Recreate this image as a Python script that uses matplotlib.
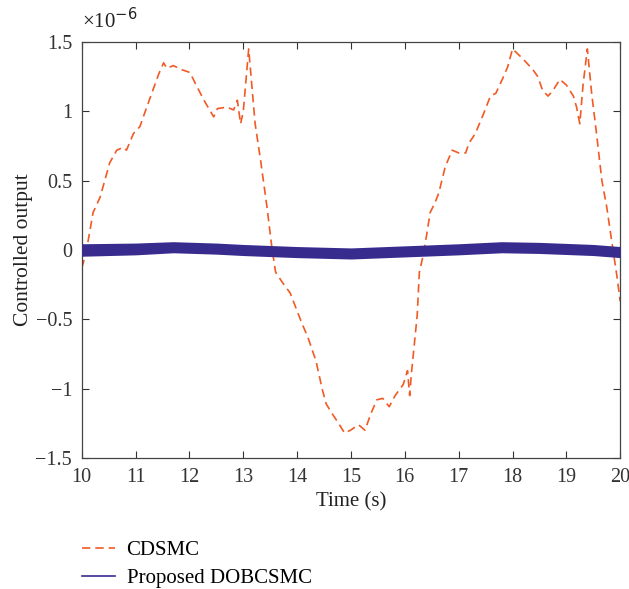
import matplotlib
matplotlib.use("Agg")
import matplotlib.pyplot as plt
from matplotlib.ticker import FuncFormatter

# CDSMC controlled output (units of 1e-6)
t_cdsmc = [10.0, 10.06, 10.12, 10.21, 10.34, 10.52, 10.65, 10.77, 10.83, 10.96, 11.08, 11.17,
           11.30, 11.43, 11.52, 11.58, 11.70, 11.86, 12.01, 12.11, 12.27, 12.45, 12.52, 12.70,
           12.82, 12.89, 12.95, 13.0, 13.10, 13.22, 13.32, 13.44, 13.53, 13.60, 13.72, 13.87,
           13.98, 14.09, 14.20, 14.35, 14.47, 14.54, 14.65, 14.77, 14.88, 14.99, 15.14, 15.26,
           15.37, 15.48, 15.59, 15.71, 15.82, 15.97, 16.05, 16.09, 16.12, 16.23, 16.27, 16.34,
           16.41, 16.47, 16.56, 16.63, 16.75, 16.88, 17.0, 17.13, 17.19, 17.31, 17.47, 17.59,
           17.69, 17.81, 17.91, 18.0, 18.19, 18.38, 18.47, 18.56, 18.66, 18.75, 18.88, 19.0,
           19.13, 19.19, 19.25, 19.31, 19.39, 19.47, 19.56, 19.66, 19.75, 19.84, 19.94, 20.0]
y_cdsmc = [-0.13, -0.05, 0.07, 0.27, 0.38, 0.63, 0.72, 0.74, 0.72, 0.84, 0.89, 0.99,
           1.13, 1.27, 1.35, 1.31, 1.33, 1.30, 1.28, 1.20, 1.08, 0.96, 1.02, 1.03,
           1.01, 1.08, 0.91, 1.00, 1.45, 0.91, 0.65, 0.31, 0.02, -0.16, -0.23, -0.31,
           -0.42, -0.53, -0.63, -0.80, -1.01, -1.11, -1.18, -1.25, -1.32, -1.30, -1.26, -1.30,
           -1.18, -1.08, -1.07, -1.13, -1.05, -0.97, -0.87, -1.05, -0.90, -0.47, -0.16, -0.04,
           0.12, 0.27, 0.34, 0.41, 0.60, 0.72, 0.70, 0.70, 0.77, 0.84, 0.99, 1.11,
           1.13, 1.23, 1.32, 1.45, 1.38, 1.30, 1.25, 1.15, 1.11, 1.15, 1.23, 1.19,
           1.11, 1.03, 0.91, 1.19, 1.45, 1.13, 0.84, 0.50, 0.31, 0.07, -0.19, -0.37]

# Proposed DOBCSMC: noise band around zero (units of 1e-6)
t_dob = [10.0, 11.0, 11.7, 12.5, 13.0, 14.0, 15.0, 16.0, 17.0, 17.8, 18.5, 19.5, 20.0]
y_dob = [0.0, 0.01, 0.02, 0.01, 0.0, -0.015, -0.025, -0.01, 0.005, 0.02, 0.015, 0.0, -0.015]
dob_upper = [0.045, 0.05, 0.06, 0.05, 0.04, 0.025, 0.015, 0.03, 0.045, 0.06, 0.055, 0.04, 0.025]
dob_lower = [-0.045, -0.035, -0.02, -0.03, -0.04, -0.055, -0.065, -0.05, -0.035, -0.02, -0.025, -0.04, -0.055]

yticks = [-1.5, -1, -0.5, 0, 0.5, 1, 1.5]
xticks = list(range(10, 21))

orange = "#f15a24"
indigo = "#372c8e"

plt.rcParams["font.family"] = ["Liberation Serif", "DejaVu Serif"]
plt.rcParams["font.size"] = 14

fig = plt.figure(figsize=(6.29, 5.89), dpi=100)
ax = fig.add_axes([0.130, 0.2224, 0.856, 0.7063])

ax.fill_between(t_dob, dob_lower, dob_upper, color=indigo, linewidth=0, zorder=3)
ax.plot(t_dob, y_dob, color=indigo, linewidth=1.2, zorder=3, label="Proposed DOBCSMC")
ax.plot(t_cdsmc, y_cdsmc, color=orange, linewidth=1.2, linestyle=(0, (5, 3)),
        zorder=2, label="CDSMC")

ax.set_xlim(10, 20)
ax.set_ylim(-1.5, 1.5)
ax.set_xticks(xticks)
ax.set_yticks(yticks)
ax.yaxis.set_major_formatter(FuncFormatter(lambda v, p: ("%g" % v).replace("-", "\u2212")))
ax.tick_params(direction="in", top=True, right=True, length=5, colors="#333333",
               labelsize=14.5, pad=7)
for s in ax.spines.values():
    s.set_color("#444444")
    s.set_linewidth(0.9)

ax.set_xlabel("Time (s)", fontsize=15, color="#222222", labelpad=4)
ax.set_ylabel("Controlled output", fontsize=15.5, color="#222222", labelpad=2)
ax.text(0.0, 1.022, "\u00d710$^{\u22126}$", transform=ax.transAxes, fontsize=15,
        color="#222222", ha="left", va="bottom")

h, l = ax.get_legend_handles_labels()
fig.legend([h[1], h[0]], [l[1], l[0]], loc="upper left", bbox_to_anchor=(0.13, 0.082),
           frameon=False, fontsize=15, handlelength=1.6, handletextpad=0.55,
           labelspacing=0.4, borderaxespad=0, borderpad=0)

fig.savefig("out.png", dpi=100)
